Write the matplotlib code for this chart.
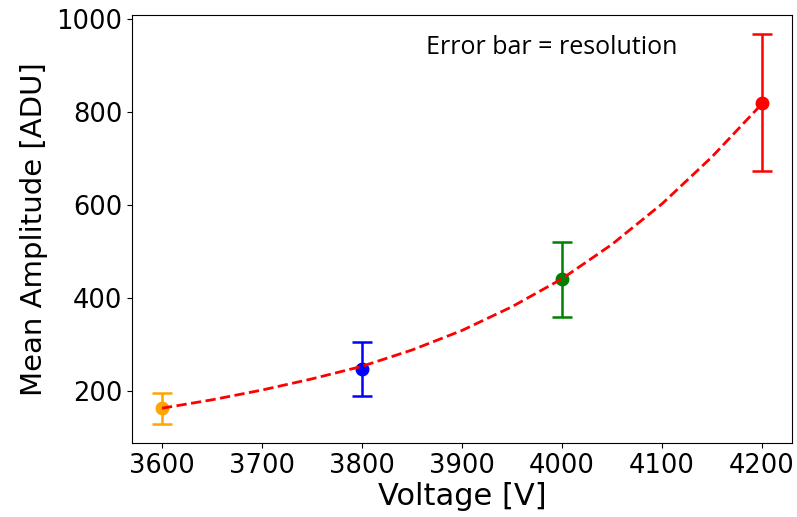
import numpy as np
import matplotlib
matplotlib.use("Agg")
import matplotlib.pyplot as plt

# puntos medidos
voltajes = [3600, 3800, 4000, 4200]
amplitudes = [163, 248, 441, 818]
err_abajo = [33, 59, 83, 146]
err_arriba = [32, 57, 80, 148]
colores = ["orange", "blue", "green", "red"]

# curva de ajuste
v_ajuste = [3600, 3650, 3700, 3750, 3800, 3850, 3900, 3950, 4000, 4050, 4100, 4150, 4200]
a_ajuste = [163, 181, 202, 226, 253, 288, 330, 381, 441, 515, 602, 703, 817]

fig = plt.figure(figsize=(7.97, 5.17), dpi=100)
ax = fig.add_axes([0.1656, 0.1431, 0.8281, 0.8279])

ax.plot(v_ajuste, a_ajuste, "--", color="red", lw=2, zorder=3)

for v, a, lo, hi, c in zip(voltajes, amplitudes, err_abajo, err_arriba, colores):
    ax.errorbar(v, a, yerr=[[lo], [hi]], fmt="o", color=c, markersize=9,
                capsize=7, elinewidth=1.8, capthick=1.8, zorder=2)

ax.set_xlabel("Voltage [V]", fontsize=22, labelpad=2)
ax.set_ylabel("Mean Amplitude [ADU]", fontsize=21, labelpad=6)
ax.set_xticks([3600, 3700, 3800, 3900, 4000, 4100, 4200])
ax.set_yticks([200, 400, 600, 800, 1000])
ax.tick_params(labelsize=18.5)
ax.text(0.636, 0.923, "Error bar = resolution", transform=ax.transAxes,
        ha="center", va="center", fontsize=18, family=["Open Sans", "DejaVu Sans"])

fig.savefig("out.png", dpi=100)
